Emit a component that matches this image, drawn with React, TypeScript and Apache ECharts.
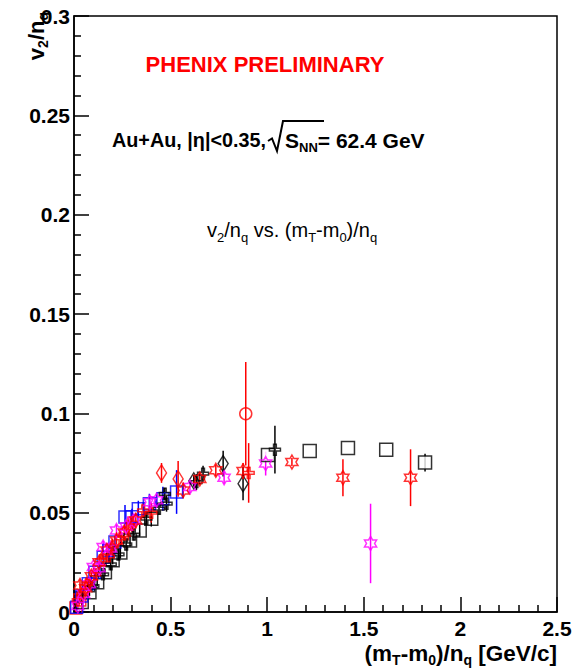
import React, { useEffect, useRef } from "react";
import * as echarts from "echarts";

// [x, y, yErr]
const blackSquaresLow = [
  [0.04, 0.005, 0.002], [0.08, 0.01, 0.002], [0.12, 0.015, 0.002], [0.16, 0.02, 0.002],
  [0.2, 0.026, 0.002], [0.24, 0.03, 0.003], [0.29, 0.036, 0.003], [0.34, 0.041, 0.003],
  [0.4, 0.047, 0.004],
];
const blackSquaresHigh = [
  [1.004, 0.079, 0], [1.22, 0.081, 0], [1.418, 0.0825, 0], [1.616, 0.0817, 0],
  [1.817, 0.0752, 0.0045],
];
const blueSquares = [
  [0.014, 0.0024, 0.002], [0.04, 0.008, 0.002], [0.074, 0.0142, 0.002], [0.108, 0.02, 0.002],
  [0.151, 0.0276, 0.003], [0.18, 0.031, 0.003], [0.212, 0.0352, 0.003], [0.264, 0.0478, 0.006],
  [0.3, 0.048, 0.004], [0.333, 0.052, 0.004], [0.39, 0.0545, 0.005], [0.46, 0.057, 0.006],
  [0.531, 0.0604, 0.011],
];
const magentaStars = [
  [0.02, 0.003, 0.002], [0.05, 0.009, 0.002], [0.08, 0.014, 0.002], [0.1, 0.0226, 0.002],
  [0.13, 0.022, 0.002], [0.151, 0.0327, 0.003], [0.19, 0.032, 0.003], [0.22, 0.041, 0.003],
  [0.27, 0.043, 0.003], [0.31, 0.046, 0.003], [0.393, 0.0553, 0.003], [0.427, 0.0562, 0.003],
  [0.6, 0.0629, 0.003], [0.777, 0.0676, 0.003], [0.992, 0.0747, 0.006], [1.535, 0.0345, 0.02],
];
const redStars = [
  [0.031, 0.0134, 0.003], [0.06, 0.012, 0.002], [0.09, 0.018, 0.003], [0.13, 0.025, 0.003],
  [0.17, 0.031, 0.003], [0.22, 0.036, 0.004], [0.26, 0.04, 0.004], [0.32, 0.046, 0.004],
  [0.565, 0.0612, 0.004], [0.651, 0.067, 0.003], [0.734, 0.0713, 0.003], [0.875, 0.071, 0.004],
  [1.128, 0.0755, 0.002], [1.392, 0.0676, 0.0093], [1.742, 0.0676, 0.0143],
];
const redCrosses = [
  [0.02, 0.006, 0.002], [0.045, 0.009, 0.002], [0.07, 0.014, 0.003], [0.11, 0.019, 0.003],
  [0.14, 0.026, 0.003], [0.18, 0.028, 0.003], [0.2, 0.033, 0.004], [0.24, 0.037, 0.004],
  [0.28, 0.042, 0.006], [0.3, 0.045, 0.005], [0.358, 0.0511, 0.004], [0.4, 0.05, 0.005],
  [0.904, 0.07, 0.015],
];
const blackCrosses = [
  [0.1, 0.013, 0.002], [0.15, 0.019, 0.002], [0.19, 0.024, 0.003], [0.23, 0.029, 0.003],
  [0.27, 0.034, 0.003], [0.31, 0.039, 0.003], [0.375, 0.047, 0.003], [0.44, 0.052, 0.003],
  [0.479, 0.0545, 0.004], [0.47, 0.0595, 0.003], [0.634, 0.0654, 0.004], [0.668, 0.0696, 0.004],
  [1.04, 0.0817, 0.012],
];
const blackDiamonds = [[0.62, 0.066, 0.003], [0.772, 0.0747, 0.0065], [0.875, 0.0646, 0.0084]];
const redDiamonds = [[0.453, 0.07, 0.005], [0.539, 0.067, 0.009]];
const redCircles = [[0.889, 0.0998, 0.026]];
const redSquares = [[0.01, 0.002, 0.002], [0.03, 0.006, 0.002]];

const xTicks = [0, 0.5, 1, 1.5, 2, 2.5];
const yTicks = [0, 0.05, 0.1, 0.15, 0.2, 0.25, 0.3];

const STAR6 =
  "path://M10 0 L12.887 5 L18.66 5 L15.77 10 L18.66 15 L12.887 15 L10 20 L7.113 15 L1.34 15 L4.23 10 L1.34 5 L7.113 5 Z";
const CROSS = "path://M3 0 L5 0 L5 3 L8 3 L8 5 L5 5 L5 8 L3 8 L3 5 L0 5 L0 3 L3 3 Z";

const FONT = '"Liberation Sans", Arial, Helvetica, sans-serif';

function makeSeries(data: number[][], color: string, symbol: string, size: any, fill = "rgba(255,255,255,0)"): any[] {
  return [
    {
      type: "custom",
      z: 2,
      data,
      encode: { x: 0, y: 1 },
      renderItem: (_p: any, api: any) => {
        const x = api.value(0), y = api.value(1), e = api.value(2);
        const a = api.coord([x, y - e]);
        const b = api.coord([x, y + e]);
        return {
          type: "line",
          shape: { x1: a[0], y1: a[1], x2: b[0], y2: b[1] },
          style: { stroke: color, lineWidth: 1.5 },
        };
      },
    },
    {
      type: "scatter",
      z: 3,
      data: data.map((d) => [d[0], d[1]]),
      symbol,
      symbolSize: size,
      symbolKeepAspect: true,
      itemStyle: { color: fill, borderColor: color, borderWidth: 1.5 },
    },
  ];
}

export default function App() {
  const ref = useRef<HTMLDivElement>(null);
  useEffect(() => {
    if (!ref.current) return;
    const chart = echarts.init(ref.current, null, { renderer: "svg" });
    const sub = { fontSize: 14, fontWeight: "bold", fontFamily: FONT, verticalAlign: "bottom", lineHeight: 13 };
    const subN = { fontSize: 13, fontFamily: FONT, verticalAlign: "bottom", lineHeight: 12 };
    const fmt = (v: number) => String(parseFloat(v.toFixed(2)));
    chart.setOption({
      animation: false,
      grid: { left: 74, right: 24, top: 16, bottom: 59, show: true, borderColor: "#000", borderWidth: 1.5 },
      xAxis: {
        type: "value",
        min: xTicks[0],
        max: xTicks[xTicks.length - 1],
        interval: 0.5,
        axisLine: { lineStyle: { color: "#000", width: 1.5 } },
        axisTick: { inside: true, length: 15, lineStyle: { color: "#000", width: 1.5 } },
        minorTick: { show: true, splitNumber: 5, length: 7, lineStyle: { color: "#000", width: 1.5 } },
        splitLine: { show: false },
        axisLabel: { color: "#000", fontSize: 21, fontWeight: "bold", fontFamily: FONT, margin: 6, formatter: fmt },
      },
      yAxis: {
        type: "value",
        min: yTicks[0],
        max: yTicks[yTicks.length - 1],
        interval: 0.05,
        axisLine: { lineStyle: { color: "#000", width: 1.5 } },
        axisTick: { inside: true, length: 15, lineStyle: { color: "#000", width: 1.5 } },
        minorTick: { show: true, splitNumber: 5, length: 7, lineStyle: { color: "#000", width: 1.5 } },
        splitLine: { show: false },
        axisLabel: { color: "#000", fontSize: 21, fontWeight: "bold", fontFamily: FONT, margin: 4, formatter: fmt },
      },
      graphic: [
        {
          type: "text", x: 265, y: 64, z: 10,
          style: { text: "PHENIX PRELIMINARY", fill: "#ff0000", fontSize: 22, fontWeight: "bold", fontFamily: FONT, align: "center", verticalAlign: "middle" },
        },
        {
          type: "text", x: 112, y: 140, z: 10,
          style: {
            text: "Au+Au, |η|<0.35,",
            fill: "#000", fontSize: 19.8, fontWeight: "bold", fontFamily: FONT, align: "left", verticalAlign: "middle",
          },
        },
        {
          type: "polyline", z: 10,
          shape: { points: [[268, 141], [272, 138.5], [277, 151], [283, 121], [324, 121]] },
          style: { stroke: "#000", lineWidth: 2, fill: null },
        },
        {
          type: "text", x: 285, y: 140, z: 10,
          style: {
            text: "S{s|NN}= 62.4 GeV",
            fill: "#000", fontSize: 21, fontWeight: "bold", fontFamily: FONT, align: "left", verticalAlign: "middle", lineHeight: 28,
            rich: { s: { ...sub, fontSize: 13, lineHeight: 12 } },
          },
        },
        {
          type: "text", x: 207, y: 230, z: 10,
          style: {
            text: "v{s|2}/n{s|q} vs. (m{s|T}-m{s|0})/n{s|q}",
            fill: "#000", fontSize: 20, fontFamily: FONT, align: "left", verticalAlign: "middle", lineHeight: 28,
            rich: { s: subN },
          },
        },
        {
          type: "text", x: 36, y: 12, z: 10, rotation: Math.PI / 2,
          style: {
            text: "v{s|2}/n{s|q}",
            fill: "#000", fontSize: 22, fontWeight: "bold", fontFamily: FONT, align: "right", verticalAlign: "middle", lineHeight: 28,
            rich: { s: sub },
          },
        },
        {
          type: "text", x: 557, y: 653, z: 10,
          style: {
            text: "(m{s|T}-m{s|0})/n{s|q} [GeV/c]",
            fill: "#000", fontSize: 22.5, fontWeight: "bold", fontFamily: FONT, align: "right", verticalAlign: "middle", lineHeight: 28,
            rich: { s: sub },
          },
        },
      ],
      series: [
        ...makeSeries(redSquares, "#ff0000", "rect", 12),
        ...makeSeries(blackSquaresLow, "#000000", "rect", 13),
        ...makeSeries(blackSquaresHigh, "#000000", "rect", 13, "#ffffff"),
        ...makeSeries(blueSquares, "#0000ff", "rect", 12),
        ...makeSeries(blackCrosses, "#000000", CROSS, 11),
        ...makeSeries(redCrosses, "#ff0000", CROSS, 11),
        ...makeSeries(blackDiamonds, "#000000", "diamond", [10, 16]),
        ...makeSeries(redDiamonds, "#ff0000", "diamond", [10, 16]),
        ...makeSeries(redCircles, "#ff0000", "circle", 12),
        ...makeSeries(magentaStars, "#ff00ff", STAR6, 14),
        ...makeSeries(redStars, "#ff0000", STAR6, 14),
      ],
    });
    return () => chart.dispose();
  }, []);
  return <div ref={ref} style={{ position: "absolute", left: 0, top: 0, width: 581, height: 671 }} />;
}
